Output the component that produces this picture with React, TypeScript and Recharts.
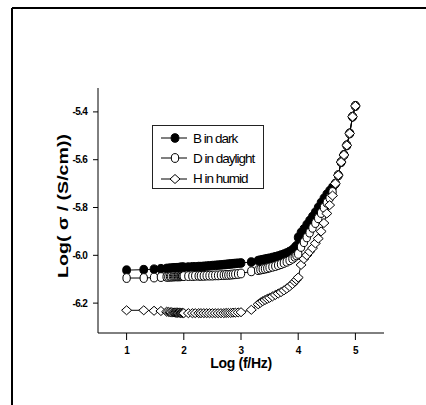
import React from 'react';
import { Line, LineChart, XAxis, YAxis } from 'recharts';

// log10 of measuring frequency, shared by all three samples
const LOG_F = [
  1.0, 1.3, 1.48, 1.6, 1.7, 1.73, 1.76, 1.78, 1.81, 1.83, 1.85, 1.87, 1.89, 1.9, 1.92, 1.94, 1.95, 1.97, 1.98,
  2.0, 2.08, 2.15, 2.2, 2.26, 2.3, 2.35, 2.4, 2.45, 2.5, 2.55, 2.6, 2.65, 2.7, 2.74, 2.78, 2.82, 2.86, 2.9, 2.95,
  3.0, 3.18, 3.3, 3.34, 3.38, 3.42, 3.46, 3.5, 3.55, 3.6, 3.65, 3.7, 3.75, 3.8, 3.85, 3.9, 3.94, 3.97,
  4.0, 4.05, 4.1, 4.15, 4.2, 4.25, 4.3, 4.35, 4.4, 4.45, 4.5, 4.55, 4.6, 4.65, 4.7, 4.75, 4.8, 4.85, 4.9, 4.95, 5.0,
];

const B_DARK = [
  -6.062, -6.06, -6.058, -6.056, -6.055, -6.055, -6.054, -6.054, -6.053, -6.053, -6.053, -6.052, -6.052, -6.052, -6.051, -6.051, -6.051, -6.05, -6.05,
  -6.05, -6.049, -6.048, -6.048, -6.047, -6.047, -6.046, -6.045, -6.044, -6.043, -6.042, -6.041, -6.04, -6.039, -6.038, -6.037, -6.036, -6.035, -6.034, -6.033,
  -6.032, -6.028, -6.022, -6.02, -6.018, -6.016, -6.014, -6.012, -6.009, -6.006, -6.003, -5.999, -5.995, -5.99, -5.984, -5.977, -5.968, -5.96,
  -5.925, -5.905, -5.89, -5.872, -5.855, -5.838, -5.82, -5.8, -5.78, -5.762, -5.745, -5.73, -5.715, -5.7, -5.665, -5.61, -5.58, -5.54, -5.49, -5.42, -5.375,
];

const D_DAYLIGHT = [
  -6.095, -6.095, -6.093, -6.091, -6.09, -6.09, -6.089, -6.089, -6.089, -6.088, -6.088, -6.088, -6.088, -6.088, -6.088, -6.088, -6.087, -6.087, -6.087,
  -6.087, -6.087, -6.087, -6.086, -6.086, -6.086, -6.086, -6.085, -6.085, -6.085, -6.084, -6.084, -6.083, -6.083, -6.082, -6.082, -6.081, -6.08, -6.079, -6.078,
  -6.076, -6.067, -6.062, -6.06, -6.058, -6.056, -6.054, -6.051, -6.048, -6.045, -6.041, -6.037, -6.032, -6.027, -6.021, -6.014, -6.006, -6.0,
  -5.994, -5.965, -5.945, -5.925, -5.905, -5.885, -5.865, -5.845, -5.823, -5.8, -5.78, -5.76, -5.735, -5.7, -5.665, -5.61, -5.58, -5.54, -5.49, -5.42, -5.375,
];

const H_HUMID = [
  -6.23, -6.23, -6.232, -6.233, -6.236, -6.237, -6.238, -6.238, -6.239, -6.239, -6.24, -6.24, -6.24, -6.24, -6.24, -6.241, -6.241, -6.241, -6.241,
  -6.242, -6.242, -6.242, -6.242, -6.242, -6.242, -6.242, -6.242, -6.242, -6.242, -6.242, -6.242, -6.242, -6.242, -6.241, -6.241, -6.241, -6.24, -6.24, -6.239,
  -6.238, -6.228, -6.205, -6.198, -6.192, -6.187, -6.182, -6.178, -6.172, -6.166, -6.16, -6.154, -6.147, -6.139, -6.13, -6.12, -6.11, -6.102,
  -6.093, -6.04, -6.015, -6.0, -5.985, -5.97, -5.95, -5.93, -5.9, -5.865, -5.825, -5.79, -5.75, -5.7, -5.665, -5.61, -5.58, -5.54, -5.49, -5.42, -5.375,
];

const X_TICKS = [1, 2, 3, 4, 5];
const Y_TICKS = [-6.2, -6.0, -5.8, -5.6, -5.4];
const LEGEND = ['B in dark', 'D in daylight', 'H in humid'];

const rows = LOG_F.map((x, i) => ({ x, b: B_DARK[i], d: D_DAYLIGHT[i], h: H_HUMID[i] }));

const FONT = '"Liberation Sans", Arial, sans-serif';

function FilledDot({ cx, cy }: { cx: number; cy: number }) {
  return <ellipse cx={cx} cy={cy} rx={3.9} ry={4.3} fill="#000" stroke="#000" strokeWidth={1} />;
}
function OpenDot({ cx, cy }: { cx: number; cy: number }) {
  return <ellipse cx={cx} cy={cy} rx={3.7} ry={4.4} fill="#fff" stroke="#000" strokeWidth={1} />;
}
function Diamond({ cx, cy }: { cx: number; cy: number }) {
  const w = 5;
  const h = 4.5;
  return (
    <polygon
      points={`${cx},${cy - h} ${cx + w},${cy} ${cx},${cy + h} ${cx - w},${cy}`}
      fill="#fff"
      stroke="#000"
      strokeWidth={1}
    />
  );
}

const SHAPES = [FilledDot, OpenDot, Diamond];

const dotFor = (Shape: typeof FilledDot) => (p: any) => {
  if (p.cx == null || p.cy == null) return <g key={p.index} />;
  return <Shape key={p.index} cx={p.cx} cy={p.cy} />;
};

// the original figure is stretched vertically, so rotated text runs long
function YTitle() {
  return (
    <text
      transform="translate(63, 206) rotate(-90) scale(1.4, 1)"
      textAnchor="middle"
      dominantBaseline="central"
      fontFamily={FONT}
      fontWeight="bold"
      fontSize={14}
      fill="#000"
    >
      Log( σ / (S/cm))
    </text>
  );
}

export default function App() {
  const tick = { fontSize: 10, fontWeight: 'bold', fill: '#000', fontFamily: FONT, letterSpacing: -0.7 } as any;
  return (
    <div style={{ position: 'fixed', left: 0, top: 0, width: 426, height: 405, background: '#fff', overflow: 'hidden' }}>
      <style>{'html, body { margin: 0; overflow: hidden; }'}</style>
      <svg width={426} height={405} style={{ position: 'absolute', left: 0, top: 0 }}>
        <line x1={12} y1={8} x2={426} y2={8} stroke="#000" strokeWidth={2} />
        <line x1={12} y1={8} x2={12} y2={405} stroke="#000" strokeWidth={2} />
      </svg>
      <LineChart
        width={426}
        height={405}
        data={rows}
        margin={{ top: 88, right: 42, bottom: 42, left: 58 }}
        style={{ position: 'absolute', left: 0, top: 0 }}
      >
        <XAxis
          dataKey="x"
          type="number"
          domain={[0.5, 5.5]}
          ticks={X_TICKS}
          height={30}
          tickSize={7}
          tickMargin={7}
          tick={tick}
          stroke="#000"
          tickFormatter={(v) => String(v)}
          label={{
            value: 'Log (f/Hz)',
            position: 'insideBottom',
            offset: -5,
            style: { fontFamily: FONT, fontWeight: 'bold', fontSize: 14, fill: '#000', letterSpacing: -0.3 },
          }}
        />
        <YAxis
          type="number"
          domain={[-6.325, -5.3]}
          ticks={Y_TICKS}
          width={40}
          tickSize={5}
          tickMargin={6}
          tick={tick}
          stroke="#000"
          tickFormatter={(v) => v.toFixed(1)}
          label={<YTitle />}
        />
        <Line dataKey="b" stroke="#000" strokeWidth={1} dot={dotFor(SHAPES[0])} isAnimationActive={false} />
        <Line dataKey="d" stroke="#000" strokeWidth={1} dot={dotFor(SHAPES[1])} isAnimationActive={false} />
        <Line dataKey="h" stroke="#000" strokeWidth={1} dot={dotFor(SHAPES[2])} isAnimationActive={false} />
      </LineChart>
      <div
        style={{
          position: 'absolute',
          left: 152,
          top: 125,
          width: 110,
          height: 62,
          border: '1px solid #222',
          fontFamily: FONT,
          fontSize: 13.5,
          letterSpacing: -1,
          color: '#000',
        }}
      >
        {LEGEND.map((name, i) => {
          const Shape = SHAPES[i];
          return (
            <div key={name} style={{ position: 'absolute', left: 7, top: 4 + i * 20.3, height: 16, display: 'flex', alignItems: 'center' }}>
              <svg width={27} height={12} style={{ display: 'block' }}>
                <line x1={1} y1={6} x2={27} y2={6} stroke="#000" strokeWidth={1} />
                <Shape cx={15} cy={6} />
              </svg>
              <span style={{ marginLeft: 6, whiteSpace: 'nowrap' }}>{name}</span>
            </div>
          );
        })}
      </div>
    </div>
  );
}
